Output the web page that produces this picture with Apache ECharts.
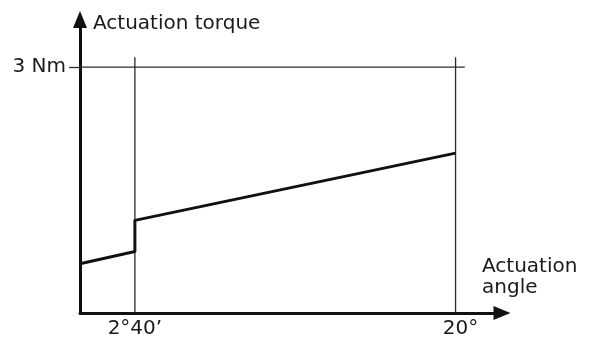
<!DOCTYPE html>
<html>
<head>
<meta charset="utf-8">
<script src="https://cdn.jsdelivr.net/npm/echarts@6/dist/echarts.min.js"></script>
<style>html,body{margin:0;padding:0;background:#fff;}#c{width:596px;height:340px;}</style>
</head>
<body>
<div id="c"></div>
<script>
// Data (schematic torque curve)
const angleDeg = [-0.3, 2.667, 2.667, 20];
const torqueNm = [0.6, 0.75, 1.13, 1.95];
// Tick values and labels
const xTickValues = [2.667, 20];
const xTickLabels = ['2°40’', '20°'];
const yTickValues = [3];
const yTickLabels = ['3 Nm'];
// Reference lines
const refTorque = 3;
const refLineX = [-0.3, 20.5];
const markerAngles = [2.667, 20];
const markerTop = 3.12;
// Axis extents
const xMin = -0.3, xMax = 22.51;
const yMin = 0, yMax = 3.58;

const font = 'DejaVu Sans';
const chart = echarts.init(document.getElementById('c'), null, {renderer: 'canvas'});

const series = [];
series.push({
  type: 'line', data: refLineX.map(x => [x, refTorque]), symbol: 'none',
  lineStyle: {color: '#2b2b2b', width: 1.3}, z: 2, silent: true
});
markerAngles.forEach(a => {
  series.push({
    type: 'line', data: [[a, yMin], [a, markerTop]], symbol: 'none',
    lineStyle: {color: '#2b2b2b', width: 1.3}, z: 2, silent: true
  });
});
series.push({
  type: 'line', data: angleDeg.map((x, i) => [x, torqueNm[i]]), symbol: 'none',
  lineStyle: {color: '#111', width: 3}, z: 3, silent: true
});

chart.setOption({
  animation: false,
  backgroundColor: '#fff',
  grid: {left: 80, right: 94, top: 19.5, bottom: 27, containLabel: false},
  xAxis: {
    type: 'value', min: xMin, max: xMax,
    name: 'Actuation\nangle', nameLocation: 'end', nameGap: -20,
    nameTextStyle: {fontFamily: font, fontSize: 20, color: '#1a1a1a', align: 'left', verticalAlign: 'bottom', lineHeight: 21, padding: [0, 0, 15, 0]},
    axisLine: {show: true, onZero: false, symbol: ['none', 'triangle'], symbolSize: [14, 17], lineStyle: {color: '#111', width: 3}},
    axisTick: {show: false},
    axisLabel: {
      show: true, customValues: xTickValues, margin: 6,
      fontFamily: font, fontSize: 20, color: '#1a1a1a',
      formatter: v => {
        const i = xTickValues.indexOf(v);
        if (i < 0) return '';
        return i === xTickValues.length - 1 ? '{r|' + xTickLabels[i] + '}' : xTickLabels[i];
      },
      rich: {r: {fontFamily: font, fontSize: 20, color: '#1a1a1a', padding: [0, 0, 0, 10]}}
    },
    splitLine: {show: false}
  },
  yAxis: {
    type: 'value', min: yMin, max: yMax,
    name: 'Actuation torque', nameLocation: 'end', nameGap: -4.5,
    nameTextStyle: {fontFamily: font, fontSize: 20, color: '#1a1a1a', align: 'left', verticalAlign: 'middle', padding: [0, 0, 0, 13]},
    axisLine: {show: true, onZero: false, symbol: ['none', 'triangle'], symbolSize: [14, 17], lineStyle: {color: '#111', width: 3}},
    axisTick: {show: true, customValues: yTickValues, length: 11, lineStyle: {color: '#2b2b2b', width: 1.3}},
    axisLabel: {
      show: true, customValues: yTickValues, margin: 14,
      fontFamily: font, fontSize: 20, color: '#1a1a1a',
      formatter: v => { const i = yTickValues.indexOf(v); return i >= 0 ? yTickLabels[i] : ''; }
    },
    splitLine: {show: false}
  },
  series: series
});
</script>
</body>
</html>
